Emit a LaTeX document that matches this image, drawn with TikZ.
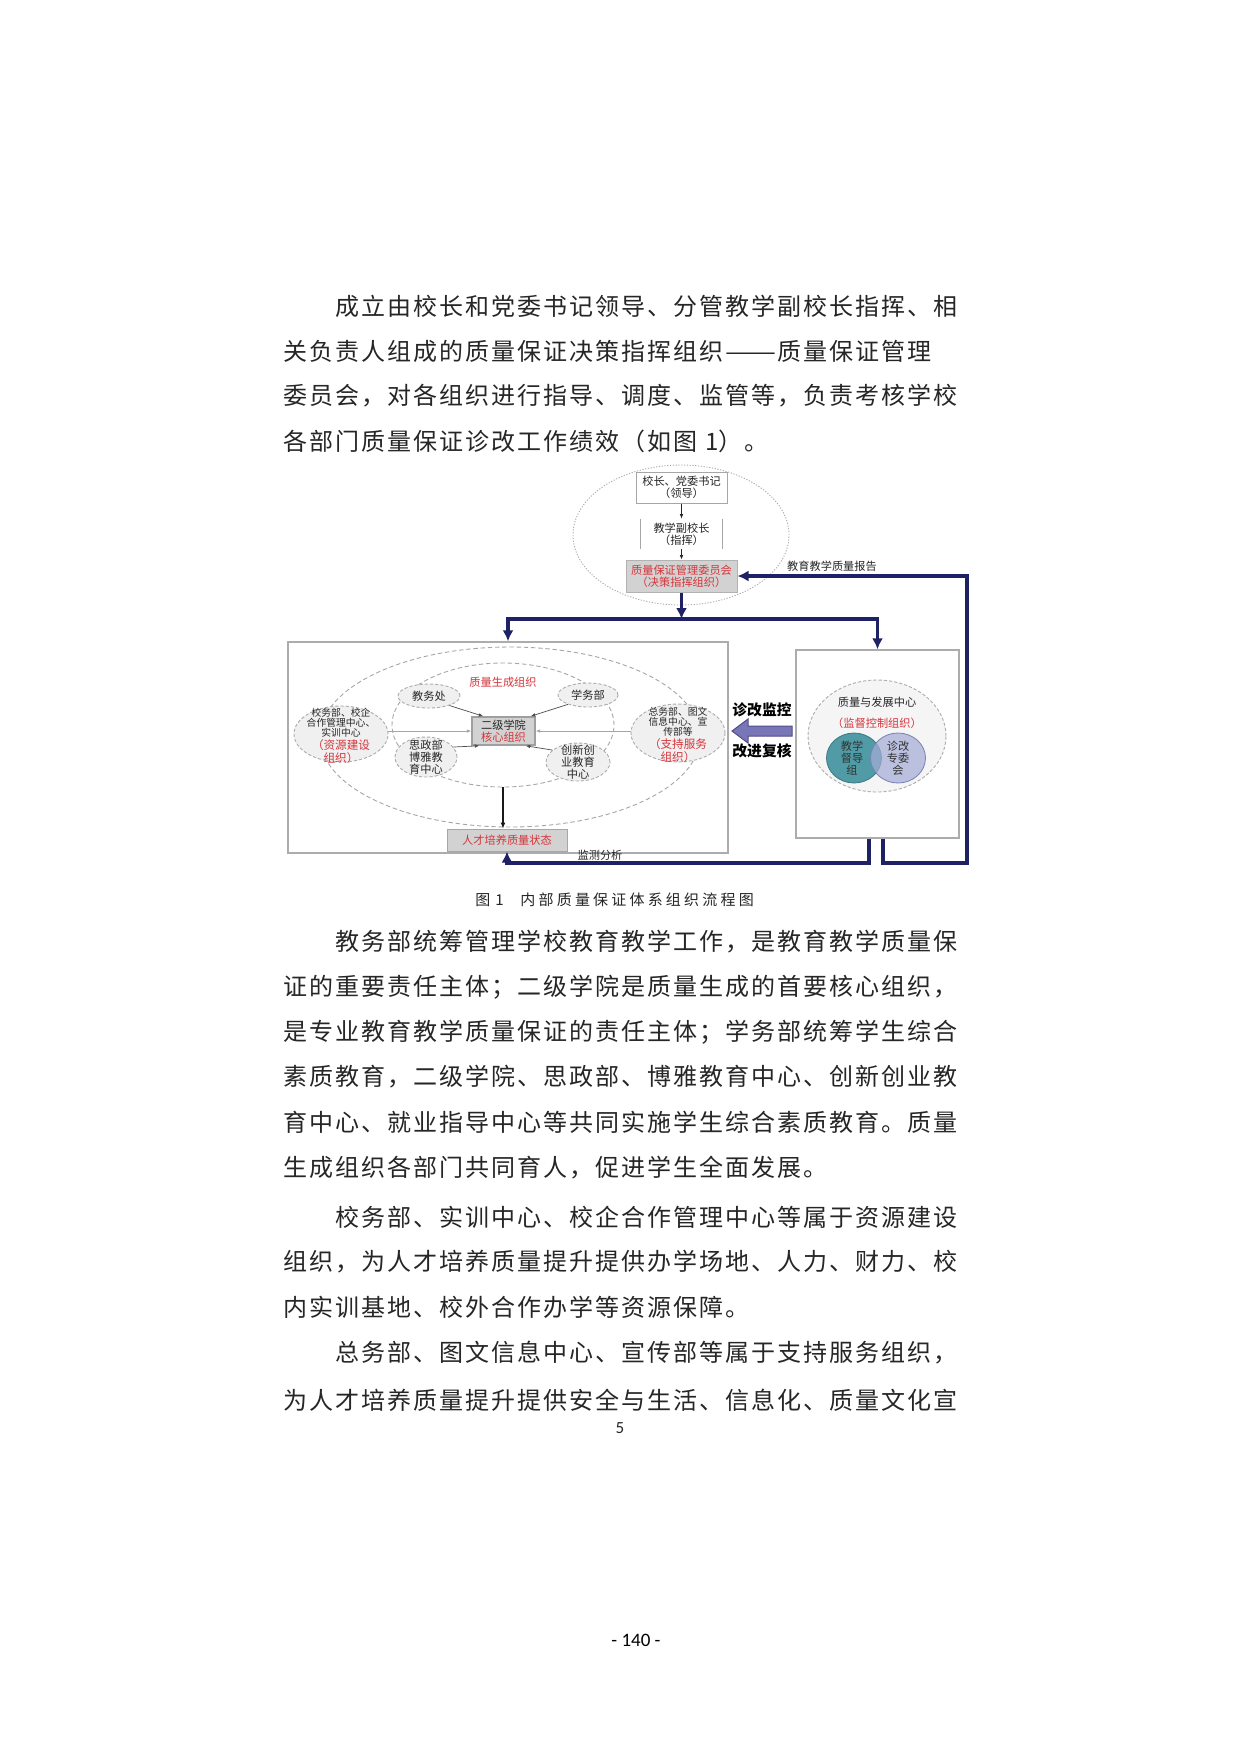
\documentclass[tikz,border=0pt]{standalone}
\usepackage{fontspec}
\setmainfont{Noto Sans CJK SC}
\newfontfamily\cjk{Noto Sans CJK SC}
\newfontfamily\footfont{Carlito}
\usetikzlibrary{arrows.meta,shapes.geometric,calc}
\definecolor{qnavy}{RGB}{30,34,100}
\definecolor{qred}{RGB}{214,52,58}
\definecolor{boxgray}{RGB}{210,210,210}
\definecolor{tealf}{RGB}{80,155,165}
\definecolor{tealb}{RGB}{60,120,130}
\definecolor{lavf}{RGB}{165,172,215}
\definecolor{lavb}{RGB}{120,128,180}
\definecolor{arrf}{RGB}{120,118,182}
\definecolor{arrb}{RGB}{80,78,140}
\makeatletter
\newcommand\spc[2]{\def\spc@w{#1}\spc@i#2\relax}
\def\spc@i#1{\ifx\relax#1\else\makebox[\spc@w][l]{#1}\expandafter\spc@i\fi}
\makeatother
\newcommand\bodyf{\cjk\fontsize{12pt}{12pt}\selectfont}
\newcommand\capf{\cjk\fontsize{7.5pt}{7.5pt}\selectfont}
\newcommand\dfont{\cjk\fontsize{5.6pt}{6pt}\selectfont}
\newcommand\sfont{\cjk\fontsize{4.9pt}{5pt}\selectfont}
\newcommand\rfont{\cjk\fontsize{5.8pt}{5pt}\selectfont}
\newcommand\heavyf{\cjk\bfseries\fontsize{7.4pt}{7.4pt}\selectfont}
\newcommand\bline[4]{\node (#1) [anchor=west, inner sep=0pt, font=\bodyf, text=black!85] at (#2,#3) {\spc{13pt}{#4}};}
\begin{document}
\begin{tikzpicture}[x=0.5pt,y=-0.5pt,
  rect/.style={rectangle, inner sep=0pt, align=center, font=\dfont, text=black!85},
  dotell/.style={ellipse, draw=gray!65, dash pattern=on 0.6pt off 0.8pt, line width=0.45pt, inner sep=0pt},
  dashell/.style={ellipse, draw=gray!70, dash pattern=on 2.2pt off 1.4pt, line width=0.45pt, inner sep=0pt},
  orgell/.style={ellipse, draw=gray!65, dash pattern=on 1.6pt off 1pt, line width=0.45pt, fill=gray!12, inner sep=0pt},
  navyline/.style={draw=qnavy, line width=1.8pt},
  navytip/.style={-{Latex[length=5.5pt,width=5.5pt]}},
  smallarrow/.style={draw=black!85, line width=0.4pt, -{Latex[length=2.2pt,width=1.8pt]}},
  tinyarrow/.style={draw=black!70, line width=0.35pt, -{Latex[length=2.2pt,width=1.8pt]}},
  midarrow/.style={draw=black!90, line width=0.8pt, -{Latex[length=3pt,width=2.6pt]}},
  lbl/.style={inner sep=0pt, font=\dfont, text=black!85}
]
\useasboundingbox[fill=white] (0,0) rectangle (1240,1753);

% ---------- body text ----------
\bline{p1a}{335}{306}{成立由校长和党委书记领导、分管教学副校长指挥、相}
\node (p1b) [anchor=west, inner sep=0pt, font=\bodyf, text=black!85] at (283,351) {\spc{13pt}{关负责人组成的质量保证决策指挥组织}\makebox[26pt][l]{\resizebox{25.5pt}{\height}{——}}\spc{13pt}{质量保证管理}};
\bline{p1c}{283}{396}{委员会，对各组织进行指导、调度、监管等，负责考核学校}
\node (p1d) [anchor=west, inner sep=0pt, font=\bodyf, text=black!85] at (283,441) {\spc{13pt}{各部门质量保证诊改工作绩效（如图}\hspace{3pt}1\spc{13pt}{）。}};

\bline{p2a}{335}{942}{教务部统筹管理学校教育教学工作，是教育教学质量保}
\bline{p2b}{283}{987}{证的重要责任主体；二级学院是质量生成的首要核心组织，}
\bline{p2c}{283}{1032}{是专业教育教学质量保证的责任主体；学务部统筹学生综合}
\bline{p2d}{283}{1077}{素质教育，二级学院、思政部、博雅教育中心、创新创业教}
\bline{p2e}{283}{1122}{育中心、就业指导中心等共同实施学生综合素质教育。质量}
\bline{p2f}{283}{1168}{生成组织各部门共同育人，促进学生全面发展。}
\bline{p3a}{335}{1217}{校务部、实训中心、校企合作管理中心等属于资源建设}
\bline{p3b}{283}{1262}{组织，为人才培养质量提升提供办学场地、人力、财力、校}
\bline{p3c}{283}{1307}{内实训基地、校外合作办学等资源保障。}
\bline{p4a}{335}{1353}{总务部、图文信息中心、宣传部等属于支持服务组织，}
\bline{p4b}{283}{1400}{为人才培养质量提升提供安全与生活、信息化、质量文化宣}

\node (cap) [anchor=west, inner sep=0pt, font=\capf, text=black!85] at (475,900) {\makebox[22.5pt][l]{图\hspace{2.5pt}1}\spc{9.1pt}{内部质量保证体系组织流程图}};
\node (pg) [inner sep=0pt, font=\footfont\fontsize{8.5pt}{8.5pt}\selectfont, text=black!85] at (620,1428) {5};
\node (pgn) [inner sep=0pt, font=\footfont\fontsize{9.5pt}{9.5pt}\selectfont] at (636,1640) {- 140 -};

% ---------- top: leadership ----------
\node (topell) [dotell, minimum width=108pt, minimum height=70pt] at (681,535) {};
\node (b1) [rect, draw=gray!70, line width=0.5pt, fill=white, minimum width=45.5pt, minimum height=15.5pt] at (681.5,487.5) {校长、党委书记\\（领导）};
\node (b2) [rect, minimum width=40.5pt, minimum height=15pt] at (681.5,534) {教学副校长\\（指挥）};
\draw[gray!70, line width=0.5pt] (b2.north west) -- (b2.south west) (b2.north east) -- (b2.south east);
\node (b3) [rect, draw=gray!60, fill=boxgray, line width=0.5pt, text=qred, minimum width=55.5pt, minimum height=16pt] at (681.5,576) {质量保证管理委员会\\（决策指挥组织）};
\draw[smallarrow] (b1) -- (b2);
\draw[smallarrow] (b2) -- (b3);

% ---------- boxes ----------
\coordinate (jn) at (681.5,619);
\node (lbox) [rectangle, draw=gray!65, line width=0.7pt, minimum width=220pt, minimum height=105.5pt] at (508,747.5) {};
\node (rbox) [rectangle, draw=gray!65, line width=0.7pt, minimum width=81.5pt, minimum height=94pt] at (877.5,744) {};
\draw[navyline, navytip] (b3) -- (jn);
\draw[navyline, navytip] (jn) -| (lbox.north);
\draw[navyline, navytip] (jn) -| (rbox.north);

% ---------- left box: quality generation ----------
\node (outerell) [dashell, minimum width=190pt, minimum height=90pt] at (510,737) {};
\node (innerell) [dashell, minimum width=111pt, minimum height=62pt] at (503,725) {};
\node (genlabel) [lbl, text=qred] at (503,682) {质量生成组织};

\node (lc) [orgell, minimum width=47pt, minimum height=28pt] at (341,734) {};
\node (lct) [inner sep=0pt, align=center, text=black!85, font=\sfont] at (341,736) {校务部、校企\\合作管理中心、\\实训中心\\{\rfont\textcolor{qred}{（资源建设}}\\{\rfont\textcolor{qred}{组织）}}};
\node (rc) [orgell, minimum width=47pt, minimum height=29pt] at (678,733) {};
\node (rct) [inner sep=0pt, align=center, text=black!85, font=\sfont] at (678,735) {总务部、图文\\信息中心、宣\\传部等\\{\rfont\textcolor{qred}{（支持服务}}\\{\rfont\textcolor{qred}{组织）}}};

\node (jwc) [orgell, minimum width=31pt, minimum height=12pt] at (429,696) {};
\node (jwct) [lbl] at (jwc) {教务处};
\node (xwb) [orgell, minimum width=30pt, minimum height=12pt] at (588,695) {};
\node (xwbt) [lbl] at (xwb) {学务部};
\node (sz) [orgell, minimum width=31pt, minimum height=20pt] at (426,757) {};
\node (szt) [lbl, align=center] at (sz) {思政部\\博雅教\\育中心};
\node (cx) [orgell, minimum width=32pt, minimum height=19pt] at (578,762) {};
\node (cxt) [lbl, align=center] at (cx) {创新创\\业教育\\中心};

\node (core) [rect, draw=gray!75, line width=0.8pt, fill=boxgray, minimum width=31.5pt, minimum height=14pt] at (503.5,731) {二级学院\\\textcolor{qred}{核心组织}};

\draw[tinyarrow] (jwc.-25) -- ([xshift=6pt]core.north west);
\draw[tinyarrow] (xwb.205) -- ([xshift=-2.5pt]core.north east);
\draw[tinyarrow] (sz.20) -- ([xshift=4pt]core.south west);
\draw[tinyarrow] (cx.155) -- ([xshift=-5pt]core.south east);
\draw[tinyarrow, draw=gray!70] (lc.east |- core.west) -- (core.west);
\draw[tinyarrow, draw=gray!70] (rc.west |- core.east) -- (core.east);

\node (rcpy) [rect, draw=gray!70, fill=boxgray, line width=0.5pt, text=qred, minimum width=60pt, minimum height=11pt] at (507,840) {人才培养质量状态};
\draw[midarrow] (innerell.south) -- (innerell.south |- rcpy.north);

% ---------- right box: monitoring ----------
\node (zlell) [orgell, fill=gray!8, minimum width=69pt, minimum height=56pt] at (877,736) {};
\node (zlt1) [lbl] at (877,702) {质量与发展中心};
\node (zlt2) [lbl, text=qred] at (877,723) {（监督控制组织）};
\node (teal) [ellipse, draw=tealb, fill=tealf, line width=0.4pt, inner sep=0pt, minimum width=27.5pt, minimum height=25pt] at (854,758) {};
\node (lav) [ellipse, draw=lavb, fill=lavf, fill opacity=0.72, line width=0.4pt, inner sep=0pt, minimum width=27.5pt, minimum height=25pt] at (898,758) {};
\node (tealt) [lbl, align=center, text=black!80] at (852,758) {教学\\督导\\组};
\node (lavt) [lbl, align=center, text=black!80] at (898,758) {诊改\\专委\\会};

% big arrow
\draw[draw=arrb, fill=arrf, line width=0.5pt] (732,731) -- (748,719) -- (748,726) -- (792,726) -- (792,736) -- (748,736) -- (748,743) -- cycle;
\node (zg1) [inner sep=0pt, font=\heavyf] at (762,710) {诊改监控};
\node (zg2) [inner sep=0pt, font=\heavyf] at (762,751) {改进复核};

% ---------- feedback loops ----------
\draw[navyline, navytip] ([xshift=-4.25pt]rbox.south) -- ++(0,24) -| (rcpy.south);
\draw[navyline, navytip] ([xshift=2.75pt]rbox.south) -- ++(0,24) -- ++(84,0) |- (b3.east);
\node (rep) [lbl] at (832,566) {教育教学质量报告};
\node (mon) [lbl] at (600,855) {监测分析};
\end{tikzpicture}
\end{document}
